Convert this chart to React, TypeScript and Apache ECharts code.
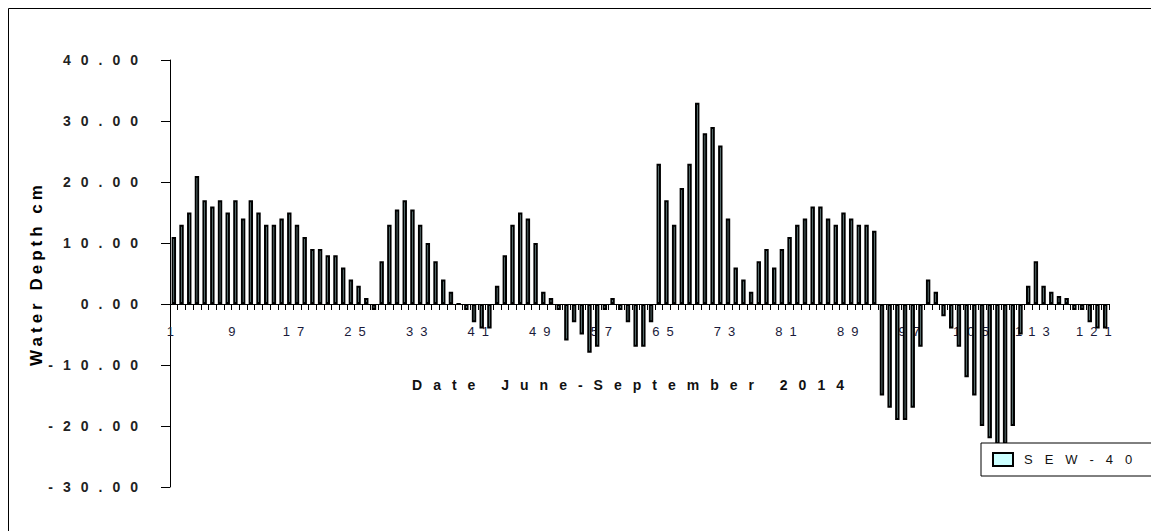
import React, { useEffect, useRef } from "react";
import * as echarts from "echarts";

// Water depth (cm) per day, 1 June – 30 September 2014 (day index 1..122)
const depthCm: number[] = [
  11, 13, 15, 21, 17, 16, 17, 15, 17, 14,
  17, 15, 13, 13, 14, 15, 13, 11, 9, 9,
  8, 8, 6, 4, 3, 1, -1, 7, 13, 15.5,
  17, 15.5, 13, 10, 7, 4, 2, 0, -1, -3,
  -4, -4, 3, 8, 13, 15, 14, 10, 2, 1,
  -1, -6, -3, -5, -8, -7, -1, 1, -1, -3,
  -7, -7, -3, 23, 17, 13, 19, 23, 33, 28,
  29, 26, 14, 6, 4, 2, 7, 9, 6, 9,
  11, 13, 14, 16, 16, 14, 13, 15, 14, 13,
  13, 12, -15, -17, -19, -19, -17, -7, 4, 2,
  -2, -4, -7, -12, -15, -20, -22, -23, -23, -20,
  -5, 3, 7, 3, 2, 1.3, 1, -1, -1, -3,
  -4, -4,
];

// Day numbers used as category labels
const dayLabels: string[] = depthCm.map((_, i) => String(i + 1));

const yMin = -30;
const yMax = 40;
const yStep = 10;

const seriesName = "SEW-40";
const xTitle = "Date June-September 2014";
const yTitle = "Water Depth cm";

const GRID_TOP = 60;
const GRID_HEIGHT = 427;

function applyLetterSpacing(root: HTMLElement) {
  const texts = root.querySelectorAll("svg text");
  texts.forEach((t) => {
    const s = (t.textContent || "").trim();
    let ls = 0;
    if (/^-?\d+\.\d\d$/.test(s)) ls = 10;
    else if (/^\d+$/.test(s)) ls = 7;
    else if (s === xTitle) ls = 11;
    else if (s === yTitle) ls = 4;
    else if (s === seriesName) ls = 12;
    if (ls) t.setAttribute("letter-spacing", String(ls));
  });
}

export default function App() {
  const ref = useRef<HTMLDivElement>(null);

  useEffect(() => {
    if (!ref.current) return;
    const chart = echarts.init(ref.current, undefined, { renderer: "svg" });
    const font = "'Liberation Sans', Arial, sans-serif";
    // distance of the zero line above the grid bottom (x axis sits on zero)
    const zeroOffset = (-yMin / (yMax - yMin)) * GRID_HEIGHT;
    chart.setOption({
      animation: false,
      backgroundColor: "#ffffff",
      graphic: [
        {
          type: "rect",
          silent: true,
          shape: { x: 8.5, y: 8.5, width: 1200, height: 600 },
          style: { fill: "none", stroke: "#000", lineWidth: 1 },
          z: -1,
        },
      ],
      grid: {
        left: 170,
        top: GRID_TOP,
        width: 939,
        height: GRID_HEIGHT,
        containLabel: false,
        outerBoundsMode: "none",
      },
      legend: {
        show: true,
        left: 981,
        top: 443,
        orient: "horizontal",
        padding: [9, 100, 9, 11],
        itemWidth: 20,
        itemHeight: 13,
        icon: "rect",
        borderColor: "#000",
        borderWidth: 1,
        backgroundColor: "#fff",
        selectedMode: false,
        z: 10,
        textStyle: {
          fontFamily: font,
          fontSize: 13,
          color: "#111",
          padding: [0, 0, 0, 6],
        },
        data: [seriesName],
      },
      xAxis: {
        type: "category",
        data: dayLabels,
        boundaryGap: true,
        position: "bottom",
        offset: -zeroOffset,
        name: xTitle,
        nameLocation: "middle",
        nameGap: 74,
        nameTextStyle: {
          fontFamily: font,
          fontSize: 14,
          fontWeight: "bold",
          color: "#111",
          padding: [0, 12, 0, 0],
        },
        axisLine: { onZero: false, lineStyle: { color: "#000", width: 1 } },
        axisTick: { show: true, interval: 0, length: 6, lineStyle: { color: "#000" } },
        axisLabel: {
          interval: 7,
          margin: 21,
          fontFamily: font,
          fontSize: 13,
          color: "#1a1a3a",
        },
        splitLine: { show: false },
      },
      yAxis: {
        type: "value",
        min: yMin,
        max: yMax,
        interval: yStep,
        name: yTitle,
        nameLocation: "middle",
        nameGap: 125,
        nameTextStyle: {
          fontFamily: font,
          fontSize: 17,
          fontWeight: "bold",
          color: "#000",
        },
        axisLine: { show: true, lineStyle: { color: "#000", width: 1 } },
        axisTick: { show: true, length: 9, lineStyle: { color: "#000" } },
        axisLabel: {
          margin: 22,
          fontFamily: font,
          fontSize: 14,
          fontWeight: "bold",
          color: "#222",
          formatter: (v: number) => v.toFixed(2),
        },
        splitLine: { show: false },
      },
      series: [
        {
          name: seriesName,
          type: "bar",
          data: depthCm,
          barWidth: 4.4,
          z: 3,
          itemStyle: {
            color: "#ccffff",
            borderColor: "#000",
            borderWidth: 2,
          },
        },
      ],
    });
    applyLetterSpacing(ref.current);
    return () => {
      chart.dispose();
    };
  }, []);

  return (
    <div
      ref={ref}
      style={{ position: "absolute", left: 0, top: 0, width: 1151, height: 531 }}
    />
  );
}
